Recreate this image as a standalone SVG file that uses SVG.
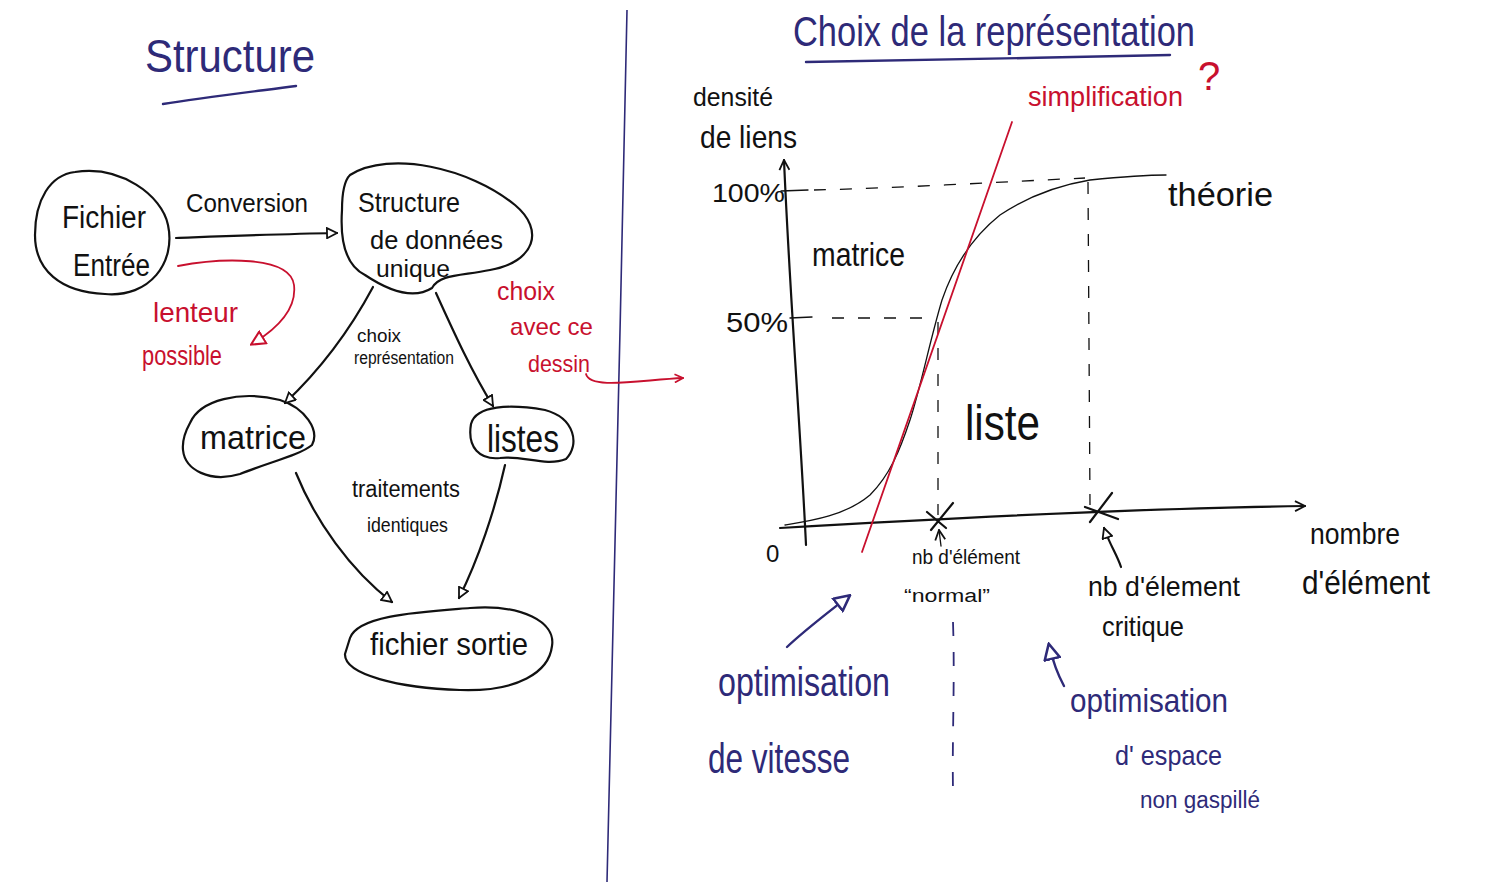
<svg xmlns="http://www.w3.org/2000/svg" width="1495" height="886" viewBox="0 0 1495 886">
<defs>
<style>
.k{stroke:#111;fill:none;stroke-width:2.2;stroke-linecap:round;stroke-linejoin:round}
.kt{stroke:#111;fill:none;stroke-width:1.3;stroke-linecap:round}
.r{stroke:#c8102e;fill:none;stroke-width:1.8;stroke-linecap:round}
.n{stroke:#2e2a78;fill:none;stroke-width:2.4;stroke-linecap:round}
.d{stroke:#111;fill:none;stroke-width:1.3;stroke-dasharray:12 14}
.dn{stroke:#2e2a78;fill:none;stroke-width:1.8;stroke-dasharray:14 16}
text{font-family:"Liberation Sans","DejaVu Sans",sans-serif}
.tk{fill:#111}
.tr{fill:#c8102e}
.tn{fill:#2e2a78}
</style>
<marker id="ak" viewBox="0 0 12 12" refX="11" refY="6" markerWidth="12" markerHeight="12" markerUnits="userSpaceOnUse" orient="auto"><path d="M1,1 L11,6 L1,11 Z" fill="#fff" stroke="#111" stroke-width="1.8"/></marker>
<marker id="ar" viewBox="0 0 14 14" refX="12" refY="7" markerWidth="16" markerHeight="16" markerUnits="userSpaceOnUse" orient="auto"><path d="M1,1 L13,7 L1,13 Z" fill="#fff" stroke="#c8102e" stroke-width="1.8"/></marker>
<marker id="ar2" viewBox="0 0 12 12" refX="11" refY="6" markerWidth="10" markerHeight="10" markerUnits="userSpaceOnUse" orient="auto"><path d="M1,1 L11,6 L1,11" fill="none" stroke="#c8102e" stroke-width="2"/></marker>
<marker id="an" viewBox="0 0 14 14" refX="12" refY="7" markerWidth="18" markerHeight="18" markerUnits="userSpaceOnUse" orient="auto"><path d="M1,1 L13,7 L1,13 Z" fill="#fff" stroke="#2e2a78" stroke-width="2"/></marker>
<marker id="aa" viewBox="0 0 12 12" refX="11" refY="6" markerWidth="12" markerHeight="12" markerUnits="userSpaceOnUse" orient="auto"><path d="M1,1 L11,6 L1,11" fill="none" stroke="#111" stroke-width="1.8"/></marker>
</defs>
<rect width="1495" height="886" fill="#fff"/>

<g id="title-left">
<text class="tn" x="145" y="72" font-size="46" textLength="170" lengthAdjust="spacingAndGlyphs">Structure</text>
<path class="n" d="M163,104 C200,98 250,92 296,86"/>
</g>

<path d="M627,10 C622,300 612,600 607,882" stroke="#2e2a78" stroke-width="1.6" fill="none"/>

<g id="node-fichier-entree">
<path class="k" d="M75,172 C120,165 162,195 168,225 C176,262 150,298 105,294 C60,292 35,270 35,235 C35,200 50,175 75,172 Z"/>
<text class="tk" x="62" y="228" font-size="31" textLength="84" lengthAdjust="spacingAndGlyphs">Fichier</text>
<text class="tk" x="73" y="276" font-size="31" textLength="77" lengthAdjust="spacingAndGlyphs">Entrée</text>
</g>

<g id="node-structure">
<path class="k" d="M350,175 C390,150 470,168 515,205 C545,230 535,262 490,270 C460,276 440,274 432,288 C410,302 380,285 365,275 C345,265 340,240 342,210 C342,190 345,180 350,175 Z"/>
<text class="tk" x="358" y="212" font-size="28" textLength="102" lengthAdjust="spacingAndGlyphs">Structure</text>
<text class="tk" x="370" y="249" font-size="25" textLength="133" lengthAdjust="spacingAndGlyphs">de données</text>
<text class="tk" x="376" y="277" font-size="23" textLength="74" lengthAdjust="spacingAndGlyphs">unique</text>
</g>

<g id="node-matrice">
<path class="k" d="M190,423 C200,400 240,390 280,400 C305,408 320,430 312,445 C300,455 270,462 240,474 C210,483 185,470 183,450 C182,440 185,432 190,423 Z"/>
<text class="tk" x="200" y="449" font-size="33" textLength="106" lengthAdjust="spacingAndGlyphs">matrice</text>
</g>

<g id="node-listes">
<path class="k" d="M471,424 C476,405 510,404 545,410 C575,418 580,445 566,459 C546,467 522,455 500,458 C480,460 467,448 471,424 Z"/>
<text class="tk" x="487" y="452" font-size="38" textLength="72" lengthAdjust="spacingAndGlyphs">listes</text>
</g>

<g id="node-fichier-sortie">
<path class="k" d="M350,638 C358,615 420,612 470,608 C522,604 556,622 552,646 C549,672 518,692 460,690 C400,688 344,675 345,654 Z"/>
<text class="tk" x="370" y="655" font-size="32" textLength="158" lengthAdjust="spacingAndGlyphs">fichier sortie</text>
</g>

<g id="connectors">
<path class="k" stroke-width="1.8" d="M176,238 C230,236 280,234 337,233" marker-end="url(#ak)"/>
<path class="k" stroke-width="1.5" d="M373,287 C350,330 320,370 285,403" marker-end="url(#ak)"/>
<path class="k" stroke-width="1.5" d="M436,293 C455,335 472,372 493,406" marker-end="url(#ak)"/>
<path class="k" stroke-width="1.4" d="M296,473 C315,520 350,570 392,602" marker-end="url(#ak)"/>
<path class="k" stroke-width="1.4" d="M505,465 C495,510 478,560 459,598" marker-end="url(#ak)"/>
<path class="r" d="M178,266 C220,258 290,255 294,285 C297,310 275,330 252,344" marker-end="url(#ar)"/>
<path class="r" d="M586,374 C590,390 640,380 683,378" marker-end="url(#ar2)"/>
</g>

<g id="labels-left">
<text class="tk" x="186" y="212" font-size="25" textLength="122" lengthAdjust="spacingAndGlyphs">Conversion</text>
<text class="tr" x="153" y="322" font-size="28" textLength="85" lengthAdjust="spacingAndGlyphs">lenteur</text>
<text class="tr" x="142" y="365" font-size="28" textLength="80" lengthAdjust="spacingAndGlyphs">possible</text>
<text class="tk" x="357" y="342" font-size="19" textLength="44" lengthAdjust="spacingAndGlyphs">choix</text>
<text class="tk" x="354" y="364" font-size="18" textLength="100" lengthAdjust="spacingAndGlyphs">représentation</text>
<text class="tr" x="497" y="300" font-size="25" textLength="58" lengthAdjust="spacingAndGlyphs">choix</text>
<text class="tr" x="510" y="335" font-size="24" textLength="83" lengthAdjust="spacingAndGlyphs">avec ce</text>
<text class="tr" x="528" y="372" font-size="24" textLength="62" lengthAdjust="spacingAndGlyphs">dessin</text>
<text class="tk" x="352" y="497" font-size="23" textLength="108" lengthAdjust="spacingAndGlyphs">traitements</text>
<text class="tk" x="367" y="532" font-size="21" textLength="81" lengthAdjust="spacingAndGlyphs">identiques</text>
</g>

<g id="title-right">
<text class="tn" x="793" y="46" font-size="42" textLength="402" lengthAdjust="spacingAndGlyphs">Choix de la représentation</text>
<path class="n" d="M806,62 C900,60 1050,58 1170,55"/>
<text class="tr" x="1028" y="106" font-size="27" textLength="155" lengthAdjust="spacingAndGlyphs">simplification</text>
<text class="tr" x="1198" y="90" font-size="40">?</text>
</g>

<g id="chart">
<text class="tk" x="693" y="106" font-size="26" textLength="80" lengthAdjust="spacingAndGlyphs">densité</text>
<text class="tk" x="700" y="148" font-size="32" textLength="97" lengthAdjust="spacingAndGlyphs">de liens</text>
<path class="k" stroke-width="2" d="M806,545 C800,420 790,300 784,160" marker-end="url(#aa)"/>
<path class="k" stroke-width="2" d="M780,528 C950,518 1150,508 1305,506" marker-end="url(#aa)"/>
<text class="tk" x="766" y="562" font-size="24">0</text>
<text class="tk" x="712" y="202" font-size="26" textLength="73" lengthAdjust="spacingAndGlyphs">100%</text>
<path class="kt" stroke-width="1.8" d="M781,191 L808,190"/>
<text class="tk" x="726" y="332" font-size="28" textLength="62" lengthAdjust="spacingAndGlyphs">50%</text>
<path class="kt" stroke-width="1.8" d="M790,318 L812,317"/>
<path class="d" d="M814,190 C900,188 1000,182 1085,178"/>
<path class="d" d="M832,318 L935,318"/>
<path class="d" d="M938,322 L938,515"/>
<path class="d" d="M1088,182 L1090,505"/>
<path class="kt" d="M785,525 C810,521 845,516 870,495 C890,475 900,450 910,420 C920,390 930,340 942,300 C955,262 975,235 1000,215 C1030,195 1060,185 1090,180 C1120,177 1145,175 1166,175"/>
<path class="r" stroke-width="1.4" d="M862,552 L1012,122"/>
<text class="tk" x="812" y="266" font-size="34" textLength="93" lengthAdjust="spacingAndGlyphs">matrice</text>
<text class="tk" x="965" y="440" font-size="50" textLength="75" lengthAdjust="spacingAndGlyphs">liste</text>
<text class="tk" x="1168" y="206" font-size="34" textLength="105" lengthAdjust="spacingAndGlyphs">théorie</text>
<path class="k" stroke-width="2.6" d="M927,512 L946,528 M953,503 L931,530"/>
<path class="k" stroke-width="2" d="M1085,507 L1118,519 M1112,493 L1090,522"/>
<path class="kt" stroke-width="1.5" d="M941,546 L939,530" marker-end="url(#aa)"/>
<path class="k" stroke-width="1.8" d="M1121,567 C1117,555 1110,545 1104,528" marker-end="url(#ak)"/>
<text class="tk" x="912" y="564" font-size="21" textLength="108" lengthAdjust="spacingAndGlyphs">nb d'élément</text>
<text class="tk" x="904" y="602" font-size="18" textLength="86" lengthAdjust="spacingAndGlyphs">“normal”</text>
<text class="tk" x="1088" y="596" font-size="28" textLength="152" lengthAdjust="spacingAndGlyphs">nb d'élement</text>
<text class="tk" x="1102" y="636" font-size="28" textLength="82" lengthAdjust="spacingAndGlyphs">critique</text>
<text class="tk" x="1310" y="544" font-size="30" textLength="90" lengthAdjust="spacingAndGlyphs">nombre</text>
<text class="tk" x="1302" y="594" font-size="34" textLength="128" lengthAdjust="spacingAndGlyphs">d'élément</text>
</g>

<g id="optimisation">
<path class="dn" d="M953,622 C955,680 952,740 953,790"/>
<path class="n" d="M787,647 C805,630 825,615 849,596" marker-end="url(#an)"/>
<text class="tn" x="718" y="696" font-size="40" textLength="172" lengthAdjust="spacingAndGlyphs">optimisation</text>
<text class="tn" x="708" y="773" font-size="42" textLength="142" lengthAdjust="spacingAndGlyphs">de vitesse</text>
<path class="n" d="M1064,686 C1058,675 1053,662 1049,645" marker-end="url(#an)"/>
<text class="tn" x="1070" y="712" font-size="34" textLength="158" lengthAdjust="spacingAndGlyphs">optimisation</text>
<text class="tn" x="1115" y="765" font-size="28" textLength="107" lengthAdjust="spacingAndGlyphs">d' espace</text>
<text class="tn" x="1140" y="808" font-size="23" textLength="120" lengthAdjust="spacingAndGlyphs">non gaspillé</text>
</g>
</svg>
